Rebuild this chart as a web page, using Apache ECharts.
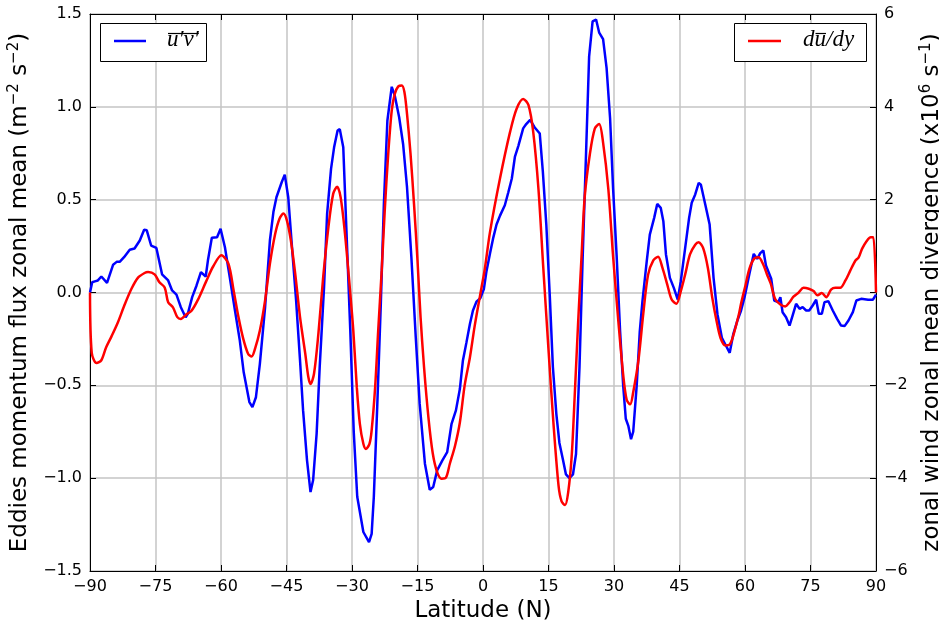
<!DOCTYPE html>
<html>
<head>
<meta charset="utf-8">
<script src="https://cdn.jsdelivr.net/npm/echarts@6/dist/echarts.min.js"></script>
<style>
html, body { margin: 0; padding: 0; background: #fff; }
#chart { width: 939px; height: 629px; }
</style>
</head>
<body>
<div id="chart"></div>
<script>
// Eddy momentum flux u'v' (zonal mean), m^-2 s^-2, against latitude
const latUV = [-90,-89.5,-88.9,-88.2,-87.4,-86.1,-84.7,-83.9,-83.2,-82.2,-80.9,-79.8,-78.6,-77.6,-77.0,-76.0,-74.8,-73.5,-72.1,-71.2,-70.2,-69.2,-68.1,-67.6,-66.6,-65.6,-64.6,-63.5,-63.0,-62.1,-60.9,-60.1,-59.1,-58.0,-56.8,-55.7,-54.8,-53.5,-52.8,-52.0,-51.1,-49.9,-48.8,-48.0,-47.3,-46.1,-45.4,-44.6,-43.8,-42.8,-41.9,-41.2,-40.3,-39.5,-38.9,-38.1,-37.4,-36.4,-35.7,-34.8,-34.1,-33.3,-32.8,-32.0,-31.3,-30.4,-29.6,-28.8,-27.4,-26.1,-25.5,-25.0,-24.2,-23.4,-22.7,-21.9,-20.9,-20.2,-19.2,-18.3,-17.4,-16.4,-15.4,-14.5,-13.3,-12.2,-11.4,-10.5,-9.3,-8.2,-7.2,-6.2,-5.3,-4.6,-3.8,-3.0,-2.3,-1.5,-0.6,0.2,0.8,1.6,2.3,3.1,3.9,5.0,5.8,6.6,7.3,8.1,9.2,9.9,10.8,11.8,13.0,13.7,14.5,15.3,16.0,16.8,17.5,18.3,19.0,19.8,20.6,21.3,22.1,22.8,23.6,24.3,25.1,25.9,26.6,27.5,28.3,29.1,29.8,30.6,31.4,32.1,32.7,33.3,33.9,34.4,35.2,35.9,36.5,37.5,38.2,39.2,39.9,40.7,41.3,41.9,42.8,43.7,44.6,45.3,46.3,47.2,47.8,48.6,49.4,49.9,50.9,51.9,52.8,53.7,54.7,55.5,56.5,57.3,58.2,59.1,59.9,61.0,62.0,62.8,63.5,64.2,64.8,66.0,66.7,67.6,68.1,68.6,69.4,70.2,70.9,71.7,72.5,73.2,74.0,74.7,75.5,76.3,76.9,77.6,78.2,79.1,80.1,81.1,82.0,82.8,83.7,84.7,85.5,86.6,88.2,89.3,90.0];
const uv = [0.0,0.055,0.06,0.065,0.086,0.052,0.15,0.165,0.165,0.19,0.23,0.237,0.28,0.338,0.335,0.253,0.24,0.098,0.065,0.011,-0.011,-0.079,-0.133,-0.115,-0.025,0.038,0.11,0.086,0.172,0.295,0.298,0.343,0.244,0.083,-0.097,-0.258,-0.43,-0.59,-0.617,-0.564,-0.384,-0.079,0.28,0.433,0.513,0.594,0.635,0.513,0.262,-0.043,-0.366,-0.635,-0.904,-1.075,-1.01,-0.76,-0.402,0.029,0.424,0.666,0.782,0.872,0.88,0.782,0.35,-0.2,-0.75,-1.1,-1.29,-1.345,-1.3,-1.1,-0.6,-0.061,0.477,0.925,1.108,1.06,0.944,0.8,0.567,0.19,-0.24,-0.6,-0.922,-1.062,-1.048,-0.958,-0.904,-0.86,-0.707,-0.635,-0.52,-0.366,-0.27,-0.17,-0.097,-0.05,-0.03,0.018,0.115,0.21,0.29,0.366,0.414,0.47,0.54,0.614,0.73,0.79,0.884,0.907,0.93,0.89,0.856,0.653,0.366,-0.02,-0.40,-0.655,-0.81,-0.90,-0.98,-1.0,-0.98,-0.87,-0.40,0.17,0.75,1.27,1.46,1.47,1.40,1.365,1.21,0.94,0.557,0.2,-0.21,-0.5,-0.68,-0.72,-0.79,-0.75,-0.5,-0.21,-0.05,0.169,0.312,0.402,0.477,0.456,0.384,0.205,0.079,0.025,-0.038,0.061,0.24,0.402,0.483,0.528,0.59,0.58,0.474,0.366,0.079,-0.118,-0.244,-0.28,-0.325,-0.226,-0.155,-0.097,-0.025,0.1,0.208,0.181,0.212,0.226,0.145,0.074,-0.043,-0.052,-0.025,-0.106,-0.133,-0.178,-0.124,-0.061,-0.088,-0.079,-0.097,-0.097,-0.07,-0.039,-0.115,-0.115,-0.052,-0.047,-0.097,-0.142,-0.178,-0.181,-0.151,-0.106,-0.043,-0.034,-0.039,-0.039,-0.011];

// Zonal mean zonal wind divergence d(u)/dy, x10^6 s^-1, against latitude
const latDU = [-90,-89.6,-88.5,-87.4,-86.3,-85.1,-83.6,-82.1,-80.5,-79.0,-77.5,-76.7,-75.2,-74.1,-72.9,-72.1,-71.0,-70.0,-69.2,-67.9,-66.8,-65.3,-63.4,-61.8,-59.9,-58.3,-57.1,-56.0,-54.9,-53.8,-53.0,-52.2,-51.1,-49.9,-48.8,-47.6,-46.6,-45.7,-44.9,-44.0,-43.0,-41.9,-40.7,-40.0,-39.5,-38.7,-37.7,-36.6,-35.4,-34.3,-33.4,-32.6,-31.6,-30.5,-29.7,-28.9,-28.2,-27.4,-26.8,-26.0,-25.5,-24.7,-24.0,-23.2,-22.5,-21.7,-20.9,-20.2,-19.4,-18.6,-18.0,-17.4,-16.6,-15.8,-15.0,-14.3,-13.5,-12.5,-11.5,-10.5,-9.5,-8.5,-7.6,-6.4,-5.3,-4.2,-3.0,-1.9,-0.7,0.4,1.6,3.9,6.2,7.7,9.2,10.4,11.5,12.7,13.8,15.0,16.1,17.3,18.0,18.8,19.5,20.3,21.0,21.8,22.6,23.3,24.5,25.6,26.6,27.5,28.7,29.8,31.0,32.1,32.9,33.7,34.4,35.6,36.7,37.8,39.0,40.1,41.1,42.2,43.2,44.3,45.3,46.3,47.4,48.6,49.4,50.4,51.5,52.5,53.5,54.4,55.5,56.5,57.4,58.6,59.1,60.1,61.0,62.1,63.1,64.1,65.0,65.9,66.9,68.1,69.2,70.2,71.1,72.3,73.4,74.6,75.7,76.6,77.6,78.6,79.7,80.7,81.8,83.0,84.1,85.3,86.0,86.8,87.8,88.8,89.4,90.0];
const dudy = [0,-1.30,-1.52,-1.46,-1.18,-0.95,-0.64,-0.27,0.08,0.32,0.42,0.44,0.39,0.22,0.11,-0.21,-0.32,-0.53,-0.57,-0.47,-0.4,-0.16,0.24,0.56,0.8,0.62,0.04,-0.53,-1.0,-1.32,-1.38,-1.21,-0.82,-0.17,0.62,1.26,1.59,1.7,1.55,1.12,0.4,-0.53,-1.32,-1.82,-1.97,-1.75,-0.89,0.33,1.41,2.13,2.28,2.05,1.26,0.1,-0.82,-2.04,-2.83,-3.26,-3.37,-3.26,-2.97,-2.04,-0.82,0.47,1.77,2.99,3.92,4.28,4.44,4.46,4.32,3.85,2.99,1.91,0.69,-0.53,-1.61,-2.69,-3.47,-3.87,-4.01,-3.99,-3.69,-3.3,-2.8,-2.0,-1.4,-0.72,-0.08,0.5,1.3,2.46,3.46,3.96,4.17,4.04,3.46,2.23,0.54,-1.23,-2.77,-4.16,-4.5,-4.58,-4.31,-3.54,-2.23,-0.62,0.84,2.07,3.0,3.53,3.63,3.23,2.23,0.77,-0.62,-1.77,-2.31,-2.41,-2.15,-1.46,-0.46,0.38,0.69,0.77,0.53,0.17,-0.15,-0.24,0.03,0.39,0.82,1.03,1.08,0.96,0.53,-0.11,-0.62,-0.98,-1.14,-1.12,-0.9,-0.47,-0.24,0.15,0.51,0.73,0.76,0.62,0.4,0.19,-0.14,-0.26,-0.3,-0.21,-0.09,0,0.1,0.08,0.03,-0.06,-0.01,-0.1,0.06,0.1,0.1,0.26,0.47,0.69,0.75,0.94,1.1,1.19,1.19,0];

// Axis ranges and tick spacing
const latTicks = { min: -90, max: 90, step: 15 };
const fluxTicks = { min: -1.5, max: 1.5, step: 0.5 };
const divTicks = { min: -6, max: 6, step: 2 };

const MINUS = '\u2212';
const fmtInt = v => (v < 0 ? MINUS + Math.abs(v) : String(v));
const fmtOne = v => (v < 0 ? MINUS : '') + Math.abs(v).toFixed(1);

const FONT = 'DejaVu Sans';
const MATH = 'Liberation Serif';
const tickText = { color: '#000', fontFamily: FONT, fontSize: 16 };
const titleText = {
  color: '#000', fontFamily: FONT, fontSize: 23,
  rich: { sup: { fontFamily: FONT, fontSize: 15, color: '#000', padding: [0, 0, 12, 0] } }
};
const gridLine = { show: true, lineStyle: { color: '#c4c4c4', width: 1.5, type: 'solid' } };
const blackLine = { show: true, onZero: false, lineStyle: { color: '#000', width: 1 } };
const inTick = { show: true, inside: true, length: 6, lineStyle: { color: '#000', width: 1 } };

// Legend boxes: line sample plus math-style label with an overbar
const meas = document.createElement('canvas').getContext('2d');
function textWidth(str, size) {
  meas.font = 'italic ' + size + 'px "' + MATH + '"';
  return meas.measureText(str).width;
}
const mathStyle = (txt, x, y, size) => ({
  type: 'text', left: x, top: y,
  style: { text: txt, font: 'italic ' + size + 'px "' + MATH + '"', fill: '#000' }
});

const LS = 23;
const uvLabel = 'u\u2032v\u2032';
const uvW = textWidth(uvLabel, LS);
const dW = textWidth('d', LS);
const uW = textWidth('u', LS);

const legendGraphics = [
  { type: 'rect', shape: { x: 100.5, y: 23.5, width: 106, height: 38 },
    style: { fill: '#fff', stroke: '#000', lineWidth: 1 }, z: 10 },
  { type: 'line', shape: { x1: 114, y1: 41, x2: 146, y2: 41 },
    style: { stroke: '#0000ff', lineWidth: 2.5 }, z: 11 },
  Object.assign(mathStyle(uvLabel, 167, 28, LS), { z: 11 }),
  { type: 'line', shape: { x1: 168, y1: 33.5, x2: 167 + uvW, y2: 33.5 },
    style: { stroke: '#000', lineWidth: 1.2 }, z: 11 },

  { type: 'rect', shape: { x: 734.5, y: 23.5, width: 132, height: 38 },
    style: { fill: '#fff', stroke: '#000', lineWidth: 1 }, z: 10 },
  { type: 'line', shape: { x1: 748, y1: 41, x2: 781, y2: 41 },
    style: { stroke: '#ff0000', lineWidth: 2.5 }, z: 11 },
  Object.assign(mathStyle('du/dy', 803, 28, LS), { z: 11 }),
  { type: 'line', shape: { x1: 803 + dW + 1, y1: 33.5, x2: 803 + dW + uW, y2: 33.5 },
    style: { stroke: '#000', lineWidth: 1.2 }, z: 11 }
];

const chart = echarts.init(document.getElementById('chart'), null, { renderer: 'canvas' });
chart.setOption({
  backgroundColor: '#fff',
  animation: false,
  grid: { left: 90, right: 63, top: 14, bottom: 58, containLabel: false, outerBoundsMode: 'none' },
  xAxis: [
    {
      type: 'value', position: 'bottom',
      min: latTicks.min, max: latTicks.max, interval: latTicks.step,
      name: 'Latitude (N)', nameLocation: 'middle', nameGap: 26,
      nameTextStyle: titleText,
      axisLine: blackLine, axisTick: inTick,
      axisLabel: Object.assign({ formatter: fmtInt, margin: 8 }, tickText),
      splitLine: gridLine
    },
    {
      type: 'value', position: 'top',
      min: latTicks.min, max: latTicks.max, interval: latTicks.step,
      axisLine: blackLine, axisTick: inTick,
      axisLabel: { show: false }, splitLine: { show: false }
    }
  ],
  yAxis: [
    {
      type: 'value', position: 'left',
      min: fluxTicks.min, max: fluxTicks.max, interval: fluxTicks.step,
      name: 'Eddies momentum flux zonal mean (m{sup|' + MINUS + '2} s{sup|' + MINUS + '2})',
      nameLocation: 'middle', nameGap: 56, nameRotate: 90,
      nameTextStyle: titleText,
      axisLine: blackLine, axisTick: inTick,
      axisLabel: Object.assign({ formatter: fmtOne, margin: 8 }, tickText),
      splitLine: gridLine
    },
    {
      type: 'value', position: 'right',
      min: divTicks.min, max: divTicks.max, interval: divTicks.step,
      name: 'zonal wind zonal mean divergence (x10{sup|6} s{sup|' + MINUS + '1})',
      nameLocation: 'middle', nameGap: 42, nameRotate: 90,
      nameTextStyle: titleText,
      axisLine: blackLine, axisTick: inTick,
      axisLabel: Object.assign({ formatter: fmtInt, margin: 8 }, tickText),
      splitLine: { show: false }
    }
  ],
  series: [
    {
      name: "u'v'", type: 'line', xAxisIndex: 0, yAxisIndex: 0,
      data: latUV.map((lat, i) => [lat, uv[i]]),
      showSymbol: false, smooth: false,
      lineStyle: { color: '#0000ff', width: 2.5 }, z: 3
    },
    {
      name: 'du/dy', type: 'line', xAxisIndex: 0, yAxisIndex: 1,
      data: latDU.map((lat, i) => [lat, dudy[i]]),
      showSymbol: false, smooth: 0.3,
      lineStyle: { color: '#ff0000', width: 2.5 }, z: 4
    }
  ],
  graphic: legendGraphics
});
</script>
</body>
</html>
